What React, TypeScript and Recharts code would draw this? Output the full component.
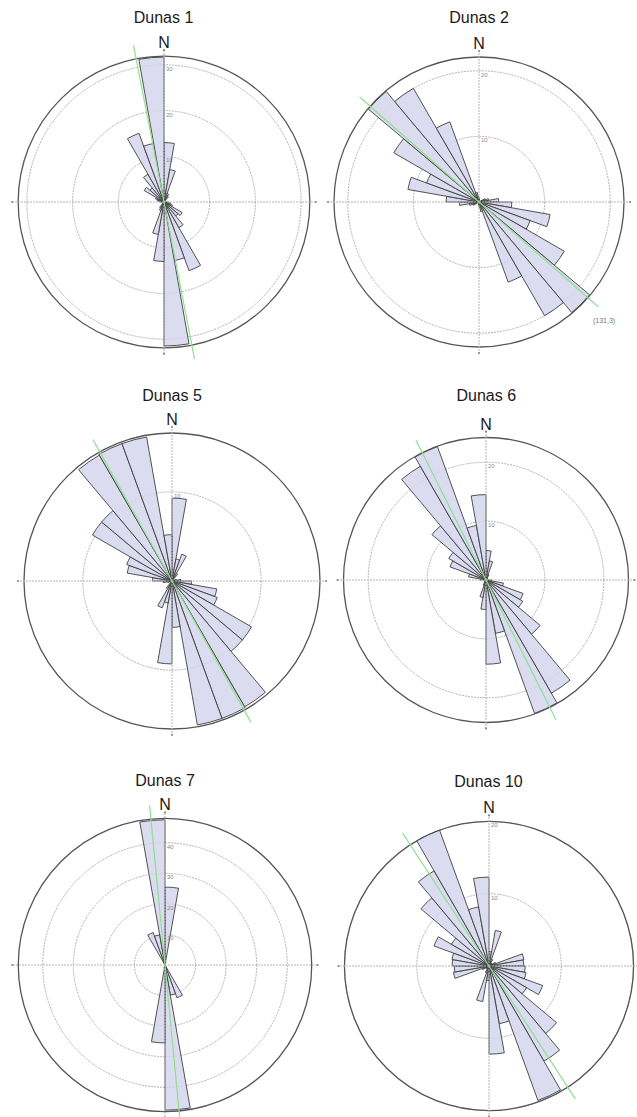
import { RadialBarChart, RadialBar, PolarAngleAxis, PolarRadiusAxis, PolarGrid } from 'recharts';

// 10-degree azimuth bins, clockwise from north
const bins = [0, 10, 20, 30, 40, 50, 60, 70, 80, 90, 100, 110, 120, 130, 140, 150, 160, 170,
  180, 190, 200, 210, 220, 230, 240, 250, 260, 270, 280, 290, 300, 310, 320, 330, 340, 350];

const dunas1 = [13, 7.2, 2, 1.5, 0, 0, 0, 0, 0, 1, 1.5, 2, 4.6, 4, 6.5, 16, 13, 31.5,
  13, 7.2, 2, 1.5, 0, 0, 0, 0, 0, 1, 1.5, 2, 5, 4, 7, 16, 13, 31.7];
const dunas2 = [0.5, 0, 0, 0, 0, 0, 1, 1.5, 3, 5, 11, 8.3, 15, 22, 20, 13, 1.5, 0.8,
  0.5, 0, 0, 0, 0, 0, 1, 1.5, 3, 5, 11, 8.5, 15, 22, 20, 13, 1.5, 0.8];
const dunas5 = [9.3, 2.5, 3.2, 1, 0, 0, 0, 0.5, 1, 2.2, 5.1, 5.4, 10.3, 10.3, 16.3, 16.4, 16.4, 5.2,
  9.3, 2.5, 3.2, 1, 0, 0, 0, 0.5, 1, 2.2, 5.1, 5.4, 10.3, 10.3, 16.3, 16.4, 16.4, 5.2];
const dunas6 = [5, 3.3, 1, 0.5, 0, 0, 0, 0, 0, 1, 3, 6.7, 7.2, 12, 22.2, 24.1, 9.2, 14.3,
  5, 3, 1, 0.5, 0, 0, 0, 0, 0, 1, 3, 6.5, 7.3, 12, 22.3, 24.1, 9.4, 14.5];
const dunas7 = [25.5, 1, 0, 0, 0, 0, 0, 0, 0, 0, 0, 0, 0, 0, 0.5, 11.4, 10, 47.5,
  25.5, 1, 0, 0, 0, 0, 0, 0, 0, 0, 0, 0, 0, 0, 0.5, 11.3, 10, 47.5];
const dunas10 = [2, 5, 1, 0.5, 0, 0.5, 1, 4.9, 4.8, 5, 5.2, 7.9, 6, 12.2, 15.2, 19.8, 8.1, 12.2,
  2, 5, 1, 0.5, 0, 0.5, 1, 5, 4.8, 5.1, 5.2, 8.1, 6, 12.3, 15.2, 20, 8.3, 12.3];

const titles = ['Dunas 1', 'Dunas 2', 'Dunas 5', 'Dunas 6', 'Dunas 7', 'Dunas 10'];
const seriesList = [dunas1, dunas2, dunas5, dunas6, dunas7, dunas10];
const meanDirections = [169, 131.3, 150.8, 153.4, 174.5, 147];
const scaleMax = [31.9, 22.1, 16.6, 24.2, 48, 20];
const ringTicks = [[10, 20, 30], [10, 20], [10], [10, 20], [10, 20, 30, 40], [10, 20]];

// panel centres and outer circle radius (px)
const panels = [
  { cx: 163.5, cy: 202.3, r: 146 },
  { cx: 479, cy: 202.3, r: 145 },
  { cx: 172, cy: 580.5, r: 148 },
  { cx: 486.3, cy: 580, r: 145 },
  { cx: 165, cy: 965, r: 148 },
  { cx: 488.5, cy: 966, r: 145 },
];

const SIZE = 350;
const FONT = '"Liberation Sans", Arial, sans-serif';
const GREEN = '#8fe08f';
const CROSS_EXT = 6;
const MEAN_EXT = 14;
// screen angles of the N, E, S, W half-axes
const crossAngles = [90, 0, -90, 180];

const Empty = () => <g />;

const Rose = ({ idx }: { idx: number }) => {
  const values = seriesList[idx];
  const rows = bins.map((b, i) => ({ bin: String(b), v: values[i] }));
  const mean = meanDirections[idx];
  const { cx, cy, r } = panels[idx];
  const outer = r + MEAN_EXT;
  const max = (scaleMax[idx] * outer) / r;
  const crossEnd = (scaleMax[idx] * (r + CROSS_EXT)) / r;
  const gridStroke = '#b4b4b4';

  const crossTick = (withLabels: boolean) => (props: any) => {
    const { x, y, payload } = props;
    if (payload.value === 0) return <g />;
    if (payload.value > scaleMax[idx]) {
      return (
        <g>
          <circle cx={x} cy={y} r={1.1} fill="#888" />
          {withLabels && (
            <text x={x} y={y - 2} textAnchor="middle" fontSize={16} fill="#1a1a1a" fontFamily={FONT}>
              N
            </text>
          )}
        </g>
      );
    }
    return (
      <text x={x + 2} y={y + 6} fontSize={6} fill="#8a8a8a" fontFamily={FONT}>
        {payload.value}
      </text>
    );
  };

  return (
    <>
      <div
        style={{
          position: 'absolute',
          left: cx - 80,
          top: cy - 179 - 13.5,
          width: 160,
          textAlign: 'center',
          fontFamily: FONT,
          fontSize: 16,
          lineHeight: '16px',
          color: '#1a1a1a',
        }}
      >
        {titles[idx]}
      </div>
      <div style={{ position: 'absolute', left: cx - SIZE / 2, top: cy - SIZE / 2 }}>
        <RadialBarChart
          width={SIZE}
          height={SIZE}
          data={rows}
          layout="centric"
          startAngle={80}
          endAngle={-280}
          innerRadius={0}
          outerRadius={outer}
          barCategoryGap={0}
          barGap={0}
        >
          <PolarAngleAxis angleAxisId={0} type="category" dataKey="bin" tick={false} tickLine={false} axisLine={false} />
          <PolarRadiusAxis radiusAxisId={0} type="number" domain={[0, max]} allowDataOverflow tick={false} axisLine={false} tickLine={false} />
          <PolarRadiusAxis radiusAxisId="rings" type="number" domain={[0, max]} allowDataOverflow ticks={ringTicks[idx]} tick={false} axisLine={false} tickLine={false} />
          <PolarRadiusAxis radiusAxisId="frame" type="number" domain={[0, max]} allowDataOverflow ticks={[scaleMax[idx]]} tick={false} axisLine={false} tickLine={false} />
          <PolarGrid radiusAxisId="rings" gridType="circle" radialLines={false} stroke={gridStroke} strokeDasharray="2 1" />
          {crossAngles.map((a, k) => (
            <PolarRadiusAxis
              key={a}
              radiusAxisId={`cross${k}`}
              type="number"
              angle={a}
              domain={[0, max]}
              allowDataOverflow
              ticks={k === 0 ? [0, ...ringTicks[idx], crossEnd] : [0, crossEnd]}
              axisLine={{ stroke: gridStroke, strokeDasharray: '2 1' }}
              tickLine={false}
              tick={crossTick(k === 0)}
            />
          ))}
          <RadialBar
            dataKey="v"
            angleAxisId={0}
            radiusAxisId={0}
            fill="#d6d6ee"
            fillOpacity={0.85}
            stroke="#404040"
            strokeWidth={0.9}
            isAnimationActive={false}
          />
          <PolarGrid radiusAxisId="frame" gridType="circle" radialLines={false} stroke="#555" strokeWidth={1.3} />
          {[90 - mean, 270 - mean].map((a, k) => (
            <PolarRadiusAxis
              key={`m${k}`}
              radiusAxisId={`mean${k}`}
              type="number"
              angle={a}
              domain={[0, max]}
              allowDataOverflow
              ticks={[0, max]}
              axisLine={{ stroke: GREEN, strokeWidth: 1.2 }}
              tickLine={false}
              tick={Empty}
            />
          ))}
        </RadialBarChart>
      </div>
    </>
  );
};

export default function App() {
  return (
    <div
      style={{
        position: 'absolute',
        left: 0,
        top: 0,
        width: 637,
        height: 1117,
        overflow: 'hidden',
        background: '#fff',
      }}
    >
      {titles.map((_, i) => (
        <Rose key={i} idx={i} />
      ))}
      <div
        style={{
          position: 'absolute',
          left: 593,
          top: 317,
          fontFamily: FONT,
          fontSize: 7,
          color: '#777',
        }}
      >
        (131,3)
      </div>
    </div>
  );
}
